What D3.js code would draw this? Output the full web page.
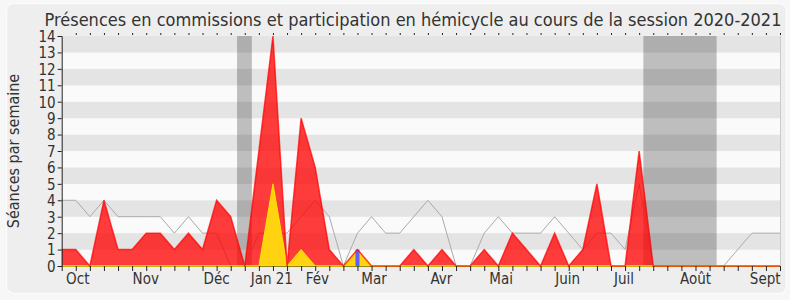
<!DOCTYPE html>
<html>
<head>
<meta charset="utf-8">
<script src="https://cdn.jsdelivr.net/npm/d3@7"></script>
<style>
  body { margin: 0; background: #f7f7f7; }
  text { font-family: "DejaVu Sans Condensed", "DejaVu Sans", sans-serif; fill: #333; }
</style>
</head>
<body>
<div id="chart"></div>
<script>
// weekly values, session 2020-2021 (week index 0..51)
var commissions = [1,1,0,4,1,1,2,2,1,2,1,4,3,0,7,14,0,9,6,1,0,1,0,0,0,1,0,1,0,0,1,0,2,1,0,2,0,1,5,0,0,7,0,0,0,0,0,0,0,0,0,0];
var hemicycle   = [0,0,0,0,0,0,0,0,0,0,0,0,0,0,0,5,0,1,0,0,0,1,0,0,0,0,0,0,0,0,0,0,0,0,0,0,0,0,0,0,0,0,0,0,0,0,0,0,0,0,0,0];
var questions   = [0,0,0,0,0,0,0,0,0,0,0,0,0,0,0,0,0,0,0,0,0,1,0,0,0,0,0,0,0,0,0,0,0,0,0,0,0,0,0,0,0,0,0,0,0,0,0,0,0,0,0,0];
var mediane     = [4,4,3,4,3,3,3,3,2,3,2,2,0,0,2,2,2,3,4,3,0,2,3,2,2,3,4,3,0,0,2,3,2,2,2,3,2,1,2,2,1,5,0,0,0,0,0,0,1,2,2,2];
var vacances = [[12.45, 13.5], [41.3, 46.5]];
var monthLabels = ["Oct", "Nov", "Déc", "Jan 21", "Fév", "Mar", "Avr", "Mai", "Juin", "Juil", "Août", "Sept"];
var monthPos    = [1.14, 5.97, 11.0, 14.92, 18.16, 22.18, 26.96, 31.2, 35.92, 39.92, 45.0, 49.95];

var svgWidth = 790, svgHeight = 300;
var margin = { top: 36, right: 10, bottom: 34, left: 61.7 };
var width = svgWidth - margin.left - margin.right;
var height = svgHeight - margin.top - margin.bottom;

var svg = d3.select("#chart").append("svg")
  .attr("width", svgWidth)
  .attr("height", svgHeight);

// panel
svg.append("rect")
  .attr("x", 6.5).attr("y", 3.5)
  .attr("width", 780).attr("height", 290)
  .attr("rx", 7)
  .attr("fill", "#eeeeee")
  .attr("stroke", "#fbfbfb")
  .attr("stroke-width", 1.5);

var chartGroup = svg.append("g")
  .attr("transform", `translate(${margin.left}, ${margin.top})`);

var n = commissions.length;
var x = d3.scaleLinear().domain([0, n - 1]).range([0, width]);
var y = d3.scaleLinear().domain([0, 14]).range([height, 0]);

// stripes
chartGroup.selectAll("rect.stripe")
  .data(d3.range(0, 14))
  .enter().append("rect")
  .attr("class", "stripe")
  .attr("x", 0)
  .attr("y", d => y(d + 1))
  .attr("width", width)
  .attr("height", d => y(d) - y(d + 1))
  .attr("fill", d => d % 2 == 1 ? "#e4e4e4" : "#fafafa");

// holidays
chartGroup.selectAll("rect.vac")
  .data(vacances)
  .enter().append("rect")
  .attr("x", d => x(d[0]))
  .attr("y", 0)
  .attr("width", d => x(d[1]) - x(d[0]))
  .attr("height", height)
  .attr("fill", "rgb(30,30,30)")
  .attr("opacity", 0.27);

// right border
chartGroup.append("line")
  .attr("x1", width + 0.5).attr("x2", width + 0.5)
  .attr("y1", 0).attr("y2", height)
  .attr("stroke", "#cccccc");

// median line
var line = d3.line().x((d, i) => x(i)).y(d => y(d));
chartGroup.append("path")
  .datum(mediane)
  .attr("d", line)
  .attr("fill", "none")
  .attr("stroke", "#aaaaaa")
  .attr("stroke-width", 1);

var area = d3.area().x((d, i) => x(i)).y0(y(0)).y1(d => y(d));

// x axis baseline
chartGroup.append("line")
  .attr("x1", 0).attr("x2", width)
  .attr("y1", height + 0.5).attr("y2", height + 0.5)
  .attr("stroke", "#222");

chartGroup.append("path")
  .datum(commissions)
  .attr("d", area)
  .attr("fill", "#ff0000")
  .attr("fill-opacity", 0.76);

chartGroup.append("path")
  .datum(hemicycle)
  .attr("d", area)
  .attr("fill", "#ffd30f")
  .attr("stroke", "#ffe600")
  .attr("stroke-width", 1);

chartGroup.selectAll("rect.q")
  .data(questions.map((v, i) => [i, v]).filter(d => d[1] > 0))
  .enter().append("rect")
  .attr("x", d => x(d[0]) - 2)
  .attr("y", d => y(d[1]))
  .attr("width", 4)
  .attr("height", d => y(0) - y(d[1]))
  .attr("fill", "#6060ff");

chartGroup.append("path")
  .datum(commissions)
  .attr("d", line)
  .attr("fill", "none")
  .attr("stroke", "#ff0000")
  .attr("stroke-opacity", 0.7)
  .attr("stroke-width", 1.5);

// axes
var bottomAxis = d3.axisBottom(x).tickValues(d3.range(0, n)).tickSize(5).tickFormat("");
var xg = chartGroup.append("g").attr("transform", `translate(0,${height})`).call(bottomAxis);
xg.select(".domain").remove();
xg.selectAll("line").attr("stroke", "#222");

var topAxis = d3.axisTop(x).tickValues(d3.range(1, n)).tickSize(2).tickFormat("");
var tg = chartGroup.append("g").attr("transform", "translate(0,-1)").call(topAxis);
tg.select(".domain").remove();
tg.selectAll("line").attr("stroke", "#222");

chartGroup.selectAll("text.month")
  .data(monthLabels)
  .enter().append("text")
  .attr("class", "month")
  .attr("x", (d, i) => x(monthPos[i]))
  .attr("y", height + 18)
  .attr("text-anchor", "middle")
  .attr("font-size", "15px")
  .text(d => d);

var leftAxis = d3.axisLeft(y).tickValues(d3.range(0, 15)).tickSize(4).tickPadding(2);
var lg = chartGroup.append("g").call(leftAxis);
lg.selectAll("line").attr("stroke", "#222");
lg.select(".domain").attr("stroke", "#222");
lg.selectAll("text").attr("font-size", "15px").attr("font-family", "DejaVu Sans Condensed").attr("fill", "#333").attr("dy", "0.36em");

svg.append("text")
  .attr("transform", `translate(19, ${margin.top + height / 2}) rotate(-90)`)
  .attr("text-anchor", "middle")
  .attr("font-size", "16px")
  .text("Séances par semaine");

svg.append("text")
  .attr("x", 413)
  .attr("y", 26)
  .attr("text-anchor", "middle")
  .attr("font-size", "18px")
  .text("Présences en commissions et participation en hémicycle au cours de la session 2020-2021");
</script>
</body>
</html>
